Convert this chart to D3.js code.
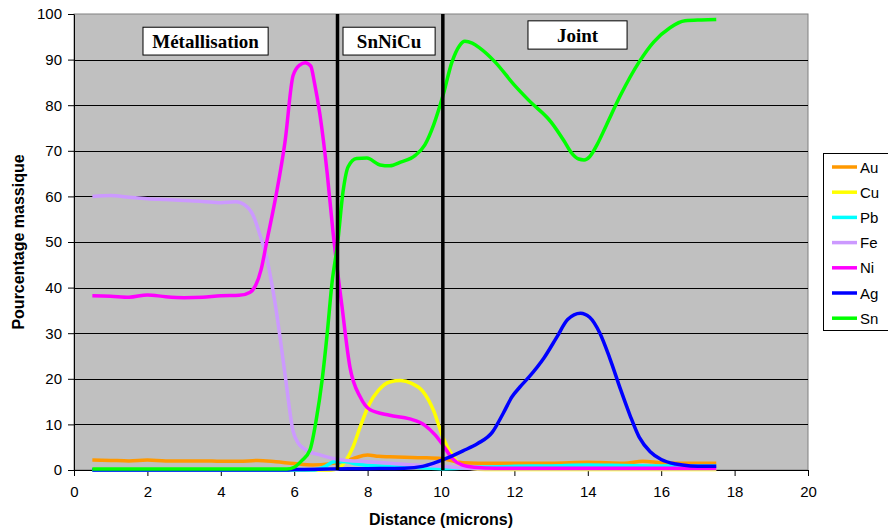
<!DOCTYPE html>
<html>
<head>
<meta charset="utf-8">
<script src="https://cdn.jsdelivr.net/npm/d3@7"></script>
<style>
  body { margin: 0; background: #fff; }
  svg { display: block; font-family: "Liberation Sans", Arial, sans-serif; }
</style>
</head>
<body>
<div id="chart"></div>
<script>
// Series: [distance (microns), mass %]
const au = [[0.5,2.2],[1,2.1],[1.5,2.0],[2,2.2],[2.5,2.0],[3,2.0],[3.5,2.0],[4,1.9],[4.5,1.9],[5,2.1],[5.5,1.8],[6,1.4],[6.5,1.1],[7,1.4],[7.3,1.8],[7.6,2.5],[8,3.3],[8.3,3.0],[8.6,2.9],[9,2.8],[9.5,2.7],[10,2.5],[10.3,2.0],[10.6,1.6],[11,1.5],[12,1.5],[13,1.5],[14,1.7],[14.5,1.6],[15,1.5],[15.5,1.9],[16,1.6],[16.5,1.5],[17,1.5],[17.5,1.5]];
const cu = [[0.5,0],[7,0],[7.2,0.3],[7.4,2],[7.6,5],[7.8,9.5],[8.05,14.5],[8.3,17.5],[8.6,19.3],[8.9,19.6],[9.2,19],[9.5,17.3],[9.8,13],[10.05,7.2],[10.3,3.3],[10.5,1.3],[10.8,0.4],[11.2,0.1],[17.5,0.1]];
const pb = [[0.5,0],[6.5,0],[6.8,0.6],[7.1,1.8],[7.4,1.8],[7.7,1.3],[8,1],[9,0.7],[10,0.3],[10.5,0.4],[11,0.6],[12,0.8],[13,0.9],[14,1.1],[15,1.0],[16,0.9],[17.5,0.9]];
const fe = [[0.5,60],[1,60.2],[1.5,59.8],[2,59.5],[2.5,59.3],[3,59.1],[3.5,58.9],[4,58.6],[4.4,58.8],[4.7,57.8],[4.9,55.5],[5.05,52],[5.25,46.5],[5.5,35.5],[5.75,21],[5.97,8.5],[6.1,6],[6.3,4.5],[6.7,3.3],[7.2,2.3],[8,1.8],[8.6,1.5],[9.5,1.0],[10,0.8],[10.5,0.5],[11,0.3],[12,0.3],[17.5,0.3]];
const ni = [[0.5,38.2],[1,38.1],[1.5,37.9],[2,38.4],[2.5,38],[3,37.8],[3.5,37.9],[4,38.2],[4.5,38.3],[4.8,39],[4.95,40.5],[5.1,44],[5.25,50],[5.5,60],[5.75,72],[5.97,86.5],[6.15,88.8],[6.3,89.3],[6.45,88.6],[6.55,85],[6.7,78],[6.9,65],[7.06,52],[7.3,36],[7.52,22.5],[7.8,16],[8.07,13.2],[8.6,12],[9.15,11.2],[9.56,9.8],[9.84,7.7],[10.05,5.5],[10.3,2.6],[10.57,1.1],[10.9,0.6],[11.5,0.4],[17.5,0.4]];
const ag = [[0.5,0],[5.8,0],[6,0.1],[7,0.2],[8,0.3],[9,0.4],[9.5,0.8],[9.8,1.5],[10.16,2.6],[10.6,4.2],[11,5.8],[11.4,8.3],[11.7,12.5],[11.93,16],[12.15,18.2],[12.4,20.4],[12.8,24.5],[13.16,29.2],[13.45,33],[13.8,34.4],[14.05,33.5],[14.33,30],[14.6,24.5],[14.9,17.5],[15.15,12],[15.4,7.2],[15.7,4],[16,2.3],[16.4,1.3],[16.8,0.9],[17.2,0.8],[17.5,0.8]];
const sn = [[0.5,0.2],[5.8,0.2],[6,0.6],[6.2,2],[6.43,4.4],[6.6,11],[6.76,19.7],[6.9,30],[7.03,41],[7.18,49.5],[7.33,61],[7.47,66.5],[7.7,68.3],[7.98,68.4],[8.34,66.9],[8.6,66.7],[8.9,67.5],[9.3,69],[9.56,71.3],[9.8,75.7],[10.05,82],[10.3,89.5],[10.5,93],[10.65,94],[10.85,93.6],[11.06,92.5],[11.47,89.5],[12,84.4],[12.4,81],[13,76.3],[13.35,72.2],[13.55,69.6],[13.75,68.2],[13.9,68],[14.05,68.7],[14.25,71.3],[14.5,75.5],[14.88,82],[15.4,89.5],[15.8,93.9],[16.24,97],[16.65,98.5],[17.1,98.7],[17.5,98.8]];

const seriesNames = ["Au", "Cu", "Pb", "Fe", "Ni", "Ag", "Sn"];
const seriesData = [au, cu, pb, fe, ni, ag, sn];
const seriesColors = ["#FF9900", "#FFFF00", "#00FFFF", "#CC99FF", "#FF00FF", "#0000FF", "#00FF00"];

const xTicks = [0, 2, 4, 6, 8, 10, 12, 14, 16, 18, 20];
const yTicks = [0, 10, 20, 30, 40, 50, 60, 70, 80, 90, 100];

// zone boundaries (microns) and zone labels
const boundaries = [7.18, 10.05];
const zoneLabels = ["Métallisation", "SnNiCu", "Joint"];
const zoneBoxes = [[1.88, 5.29, 97.1, 91.0], [7.33, 9.84, 97.1, 91.0], [12.37, 15.07, 98.5, 92.3]];

const W = 888, H = 531;
const plot = {left: 74, right: 808, top: 14, bottom: 470};

const svg = d3.select("#chart").append("svg")
    .attr("width", W)
    .attr("height", H)
    .attr("viewBox", `0 0 ${W} ${H}`);

const x = d3.scaleLinear().domain([0, 20]).range([plot.left, plot.right]);
const y = d3.scaleLinear().domain([0, 100]).range([plot.bottom, plot.top]);

/* Plot background */
svg.append("rect")
    .attr("x", plot.left).attr("y", plot.top)
    .attr("width", plot.right - plot.left).attr("height", plot.bottom - plot.top)
    .attr("fill", "#C0C0C0")
    .attr("stroke", "#808080");

/* Gridlines */
svg.append("g")
    .selectAll("line")
    .data(yTicks.filter(v => v > 0 && v < 100))
    .join("line")
    .attr("x1", plot.left).attr("x2", plot.right)
    .attr("y1", d => Math.round(y(d)) + 0.5)
    .attr("y2", d => Math.round(y(d)) + 0.5)
    .attr("stroke", "#000")
    .attr("stroke-width", 1);

/* Axes */
svg.append("g")
    .attr("transform", `translate(${plot.left},0)`)
    .call(d3.axisLeft(y).tickValues(yTicks).tickSize(6).tickSizeOuter(0).tickPadding(6))
    .call(g => g.selectAll("text").attr("font-size", 15).attr("fill", "#000").attr("font-family", "Liberation Sans, Arial"))
    .call(g => g.selectAll("line, path").attr("stroke", "#000"));

svg.append("g")
    .attr("transform", `translate(0,${plot.bottom})`)
    .call(d3.axisBottom(x).tickValues(xTicks).tickSize(6).tickSizeOuter(0).tickPadding(10))
    .call(g => g.selectAll("text").attr("font-size", 15).attr("fill", "#000").attr("font-family", "Liberation Sans, Arial"))
    .call(g => g.selectAll("line, path").attr("stroke", "#000"));

/* Series */
const line = d3.line()
    .x(d => x(d[0]))
    .y(d => y(d[1]))
    .curve(d3.curveMonotoneX);

svg.append("g")
    .selectAll("path")
    .data(seriesData)
    .join("path")
    .attr("d", line)
    .attr("fill", "none")
    .attr("stroke", (d, i) => seriesColors[i])
    .attr("stroke-width", 3.5)
    .attr("stroke-linejoin", "round");

/* Zone boundaries */
svg.append("g")
    .selectAll("line")
    .data(boundaries)
    .join("line")
    .attr("x1", d => x(d)).attr("x2", d => x(d))
    .attr("y1", y(100)).attr("y2", y(0))
    .attr("stroke", "#000")
    .attr("stroke-width", 3.5);

/* Zone labels */
const zones = svg.append("g")
    .selectAll("g")
    .data(zoneBoxes)
    .join("g");
zones.append("rect")
    .attr("x", d => x(d[0])).attr("y", d => y(d[2]))
    .attr("width", d => x(d[1]) - x(d[0]))
    .attr("height", d => y(d[3]) - y(d[2]))
    .attr("fill", "#fff").attr("stroke", "#000").attr("stroke-width", 1);
zones.append("text")
    .attr("x", d => (x(d[0]) + x(d[1])) / 2)
    .attr("y", d => (y(d[2]) + y(d[3])) / 2 + 7)
    .attr("text-anchor", "middle")
    .attr("font-family", "Liberation Serif, Times New Roman, serif")
    .attr("font-weight", "bold")
    .attr("font-size", 19)
    .text((d, i) => zoneLabels[i]);

/* Axis titles */
svg.append("text")
    .attr("transform", `translate(24, ${(plot.top + plot.bottom) / 2}) rotate(-90)`)
    .attr("text-anchor", "middle")
    .attr("font-weight", "bold")
    .attr("font-size", 16)
    .text("Pourcentage massique");

svg.append("text")
    .attr("x", (plot.left + plot.right) / 2)
    .attr("y", 525)
    .attr("text-anchor", "middle")
    .attr("font-weight", "bold")
    .attr("font-size", 16)
    .text("Distance (microns)");

/* Legend */
const legend = svg.append("g").attr("transform", "translate(823,153)");
legend.append("rect")
    .attr("x", 0.5).attr("y", 0.5)
    .attr("width", 80).attr("height", 177)
    .attr("fill", "#fff").attr("stroke", "#000");
const items = legend.selectAll("g.item")
    .data(seriesNames)
    .join("g")
    .attr("class", "item")
    .attr("transform", (d, i) => `translate(0, ${14 + i * 25.2})`);
items.append("line")
    .attr("x1", 9).attr("x2", 34)
    .attr("stroke", (d, i) => seriesColors[i])
    .attr("stroke-width", 3.5);
items.append("text")
    .attr("x", 37).attr("y", 5.5)
    .attr("font-size", 15)
    .text(d => d);
</script>
</body>
</html>
